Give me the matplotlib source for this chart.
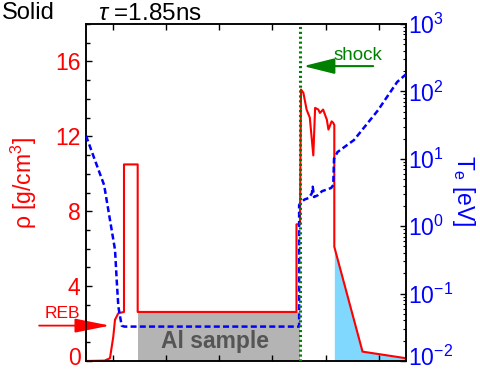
import matplotlib
matplotlib.use('Agg')
import matplotlib.pyplot as plt
import matplotlib.transforms as mtransforms
from matplotlib.ticker import MultipleLocator, FixedLocator, LogLocator, NullFormatter

plt.rcParams['font.family'] = ['Liberation Sans', 'DejaVu Sans']
plt.rcParams['mathtext.fontset'] = 'custom'
plt.rcParams['mathtext.rm'] = 'Liberation Sans'
plt.rcParams['mathtext.it'] = 'Liberation Sans:italic'
plt.rcParams['mathtext.bf'] = 'Liberation Sans:bold'

# ---------------- data ----------------
# mass density (g/cm^3) along the target (arbitrary position units)
rho_x = [0.0, 0.35, 0.45, 0.512, 0.544, 0.606, 0.713, 0.713, 0.97, 0.97,
         3.95, 3.95, 4.016, 4.035, 4.08, 4.14, 4.20, 4.266, 4.30, 4.36,
         4.39, 4.45, 4.52, 4.55, 4.61, 4.64, 4.66, 4.66, 5.19, 6.0]
rho = [0.0, 0.02, 0.15, 1.3, 2.2, 2.55, 2.62, 10.5, 10.5, 2.62,
       2.62, 7.3, 7.3, 14.5, 14.32, 13.43, 13.0, 10.98, 13.52, 13.43,
       13.25, 13.43, 12.89, 12.36, 12.8, 12.72, 12.6, 6.1, 0.5, 0.15]

# electron temperature (eV)
te_x = [0.0, 0.18, 0.34, 0.45, 0.545, 0.576, 0.607, 0.67, 0.72, 4.0,
        4.0, 4.05, 4.10, 4.18, 4.24, 4.255, 4.28, 4.35, 4.43, 4.60,
        4.64, 4.655, 4.72, 5.03, 5.48, 5.65, 5.84, 6.0]
te = [22.0, 8.97, 4.08, 1.24, 0.444, 0.159, 0.064, 0.0334, 0.0324, 0.0324,
      2.07, 2.31, 2.49, 2.62, 3.09, 3.85, 2.71, 2.88, 3.31, 3.69,
      4.07, 10.0, 12.6, 19.0, 52.5, 83.0, 138.0, 178.0]

sample_x = [0.97, 4.01]      # Al sample extent
sample_rho = 2.62
shock_x = 4.02
rear_x = [4.66, 5.19, 6.0]   # expanding rear plasma (shaded)
rear_rho = [6.1, 0.5, 0.15]

W, H = 480, 371
fig = plt.figure(figsize=(W / 100, H / 100), dpi=100)
ax = fig.add_axes([86 / W, 1 - 361 / H, 319.7 / W, 337 / H])
ax2 = ax.twinx()

FS = 16.5

# shaded regions
ax.fill_between(sample_x, [0, 0], [sample_rho, sample_rho], color='#b4b4b4', lw=0, zorder=1)
ax.fill_between(rear_x, 0, rear_rho, color='#80d8ff', lw=0, zorder=1)
ax.text(sum(sample_x) / 2 - 0.07, 0.70, 'Al sample', ha='center', va='baseline',
        fontsize=16.5, fontweight='bold', color='#555555', zorder=2)

ax.plot(rho_x, rho, color='#ff0000', lw=1.5, zorder=3)

ax.set_xlim(0, 6)
ax.set_ylim(0, 18)
ax.xaxis.set_major_locator(FixedLocator([0.5, 1.5, 2.5, 3.5, 4.5, 5.5]))
ax.yaxis.set_major_locator(MultipleLocator(4))
ax.yaxis.set_minor_locator(MultipleLocator(1))
ax.tick_params(axis='x', which='both', direction='in', top=True, bottom=True,
               labelbottom=False, length=4.5, width=1)
ax.tick_params(axis='y', which='major', direction='in', length=4.5, width=1,
               labelsize=FS, labelcolor='#ff0000', pad=4)
ax.tick_params(axis='y', which='minor', direction='in', length=3, width=1)

# Te on log axis
ax2.plot(te_x, te, color='#0000ff', lw=1.8, dashes=(2.4, 1.3), zorder=4)
ax2.axvline(shock_x, color='#008000', lw=2.2, dashes=(0.7, 0.9), zorder=5)
ax2.set_yscale('log')
ax2.set_ylim(1e-2, 1e3)
ax2.yaxis.set_major_locator(LogLocator(base=10, numticks=10))
ax2.yaxis.set_minor_locator(LogLocator(base=10, subs=range(2, 10), numticks=20))
ax2.yaxis.set_minor_formatter(NullFormatter())
ax2.tick_params(axis='y', which='major', direction='in', length=4, width=1,
                labelsize=FS, labelcolor='#0000ff', pad=1.5)
ax2.tick_params(axis='y', which='minor', direction='in', length=2.5, width=0.8)

for a in (ax, ax2):
    for s in a.spines.values():
        s.set_linewidth(1.1)

# arrows and annotations
ax.annotate('', xy=(0.45, 1.89), xytext=(-0.88, 1.89), annotation_clip=False,
            arrowprops=dict(arrowstyle='-|>,head_length=1.8,head_width=0.36',
                            color='#ff0000', lw=1.3, mutation_scale=12,
                            shrinkA=0, shrinkB=0))
ax.text(-0.45, 2.3, 'REB', ha='center', va='baseline', fontsize=12.5,
        color='#ff0000', clip_on=False)

ax.annotate('', xy=(4.08, 15.75), xytext=(5.39, 15.75),
            arrowprops=dict(arrowstyle='-|>,head_length=1.6,head_width=0.4',
                            color='#008000', lw=1.5, mutation_scale=12,
                            shrinkA=0, shrinkB=0))
ax.text(5.1, 16.07, 'shock', ha='center', va='baseline', fontsize=13.5,
        color='#008000')

# axis labels
fig.text(23.5 / W, 1 - 183.5 / H, r'ρ [g/cm$^3$]', rotation=90, ha='center',
         va='center', fontsize=FS, color='#ff0000')
fig.text(464 / W, 1 - 191 / H, r'T$_\mathrm{e}$ [eV]', rotation=270, ha='center',
         va='center', fontsize=FS, color='#0000ff')

# titles
fig.text(55 / W, 1 - 19 / H, 'Solid', ha='right', va='baseline', fontsize=17)
fig.text(150 / W, 1 - 19.5 / H, r'$\tau$ =1.85ns', ha='center', va='baseline',
         fontsize=17.5)

# lift the bottom-most tick labels slightly, as in the reference
fig.canvas.draw()
lift = mtransforms.ScaledTranslation(0, 3.5 / 72, fig.dpi_scale_trans)
for a in (ax, ax2):
    for t in a.yaxis.get_major_ticks():
        if abs(t.get_loc() - a.get_ylim()[0]) < 1e-9:
            for lab in (t.label1, t.label2):
                lab.set_transform(lab.get_transform() + lift)

fig.savefig('out.png', dpi=100)
